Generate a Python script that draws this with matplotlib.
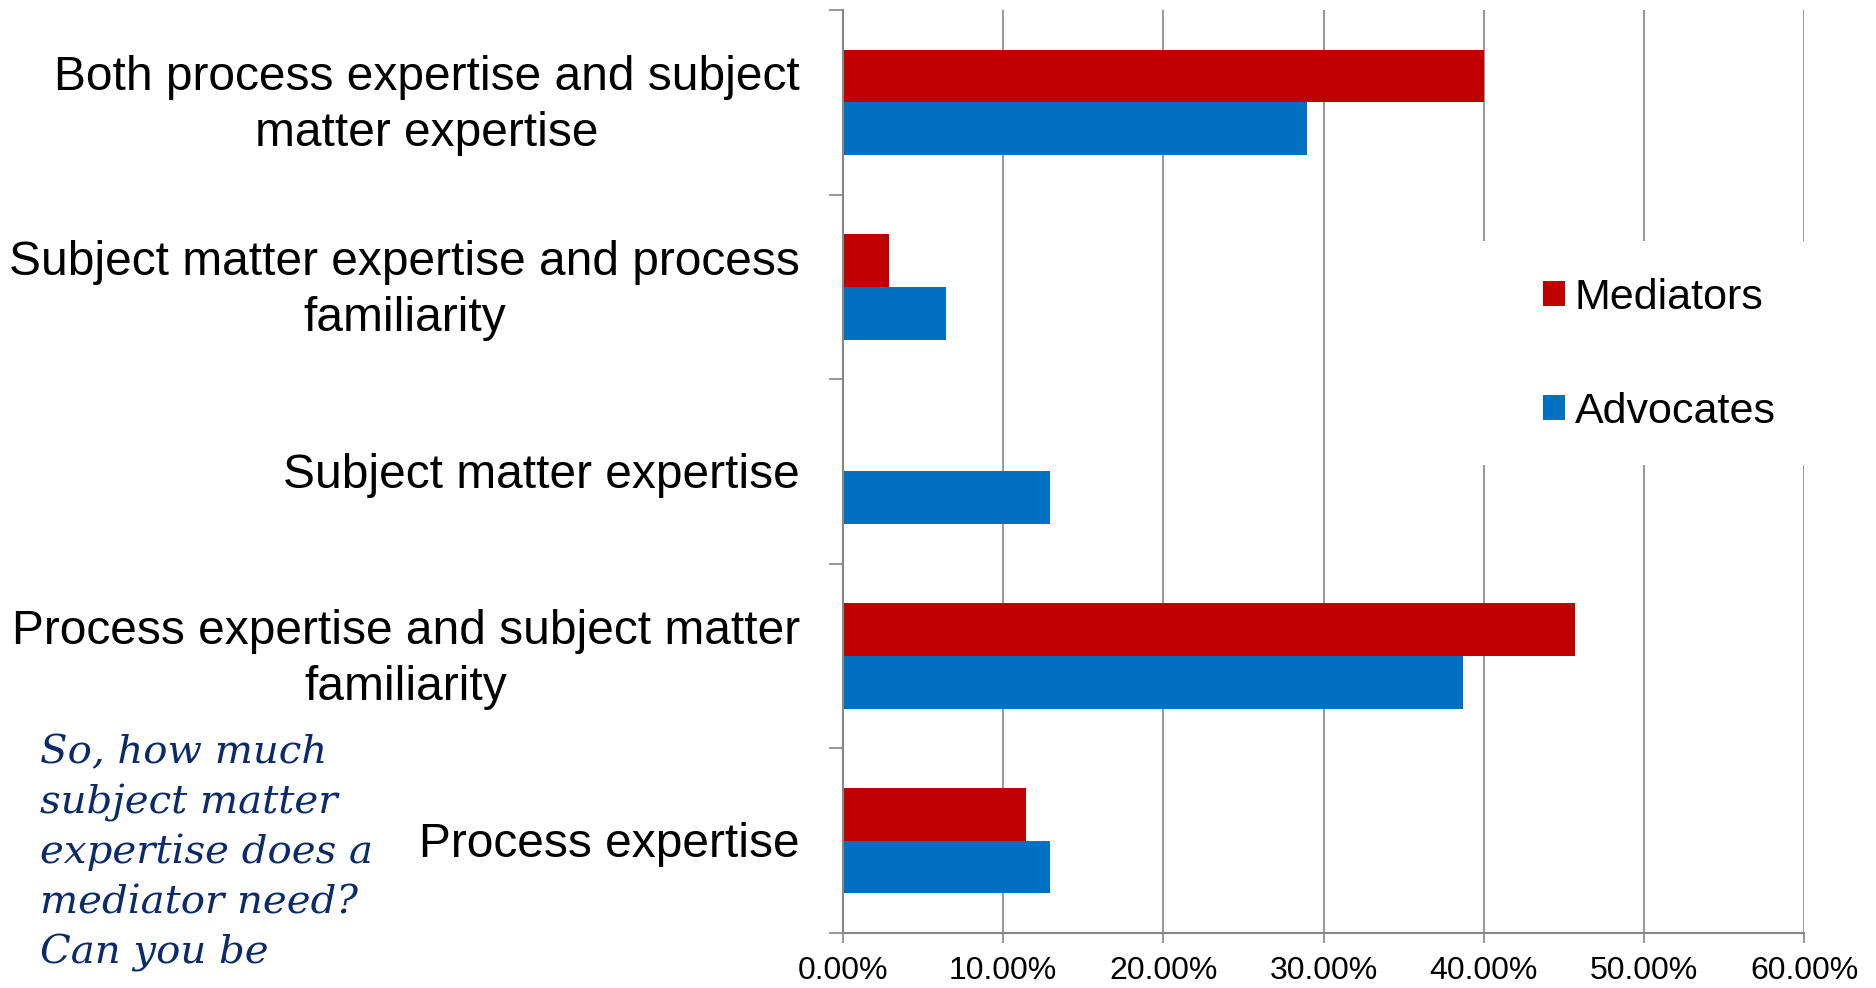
import matplotlib
matplotlib.use("Agg")
import numpy as np
import matplotlib.pyplot as plt
from matplotlib.patches import Patch, Rectangle

plt.rcParams['font.family'] = ['Liberation Sans', 'DejaVu Sans']

# Data (percent of respondents)
categories = [
    "Both process expertise and subject\nmatter expertise",
    "Subject matter expertise and process\nfamiliarity",
    "Subject matter expertise",
    "Process expertise and subject matter\nfamiliarity",
    "Process expertise",
]
mediators = [40.0, 2.86, 0.0, 45.7, 11.4]
advocates = [29.0, 6.45, 12.9, 38.7, 12.9]
x_ticks = [0, 10, 20, 30, 40, 50, 60]
series_names = ["Mediators", "Advocates"]

note_lines = [
    "So, how much",
    "subject matter",
    "expertise does a",
    "mediator need?",
    "Can you be",
]

red = "#C00000"
blue = "#0070C0"
grid_gray = "#868686"

W, H = 1876, 988
fig = plt.figure(figsize=(W / 100, H / 100), dpi=100)
ax = fig.add_axes([843 / W, (H - 933) / H, (1804 - 843) / W, (933 - 10) / H])

pos = np.arange(len(categories))
bh = 0.285
ax.barh(pos - bh / 2, mediators, height=bh, color=red, zorder=2)
ax.barh(pos + bh / 2, advocates, height=bh, color=blue, zorder=2)

ax.set_xlim(0, 60)
ax.set_ylim(len(categories) - 0.5, -0.5)

# x axis
ax.set_xticks(x_ticks)
ax.set_xticklabels([f"{v:.2f}%" for v in x_ticks], fontsize=23)
ax.tick_params(axis='x', direction='out', length=7.5, width=1.2,
               color=grid_gray, pad=9)
ax.grid(axis='x', color=grid_gray, linewidth=1.2, zorder=0)
ax.set_axisbelow(True)

# y axis: ticks at category boundaries, labels at centers
ax.set_yticks(np.arange(-0.5, len(categories), 1.0))
ax.set_yticklabels([])
ax.set_yticks(pos + 0.019, minor=True)  # small nudge so text sits like the original
labels = ax.set_yticklabels(categories, minor=True, fontsize=34.5,
                            multialignment='center', linespacing=1.32)
for t in labels:
    t.set_verticalalignment('center')
ax.tick_params(axis='y', which='major', direction='out', length=10,
               width=1.2, color=grid_gray)
ax.tick_params(axis='y', which='minor', length=0, pad=31)

for s in ['top', 'right']:
    ax.spines[s].set_visible(False)
for s in ['left', 'bottom']:
    ax.spines[s].set_color(grid_gray)
    ax.spines[s].set_linewidth(1.5)

# white legend area hiding gridlines
fig.patches.append(Rectangle((1470 / W, (H - 465) / H), (W - 1470) / W, 224 / H,
                             transform=fig.transFigure, facecolor='white',
                             edgecolor='none', zorder=1))
handles = [Patch(facecolor=red, edgecolor='none'),
           Patch(facecolor=blue, edgecolor='none')]
fig.legend(handles, series_names, loc='center left',
           bbox_to_anchor=(1543 / W, (H - 355) / H), frameon=False,
           fontsize=31, handlelength=0.51, handleheight=0.51,
           handletextpad=0.22, labelspacing=1.72, borderpad=0,
           borderaxespad=0)

# handwritten note
for i, line in enumerate(note_lines):
    fig.text(40 / W, (H - 763 - 50 * i) / H, line, family='DejaVu Serif',
             style='italic', fontsize=29, color='#0B2A6A', va='baseline',
             ha='left')

fig.savefig("out.png", dpi=100)
